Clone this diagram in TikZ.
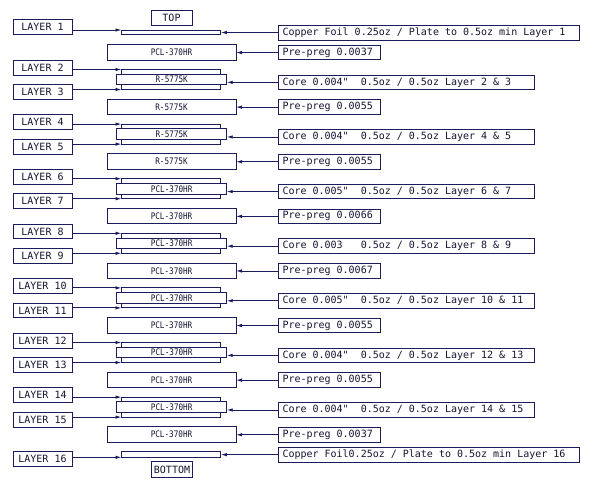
\documentclass[tikz,border=0pt]{standalone}
\usepackage{fontspec}
\setmonofont{DejaVu Sans Mono}
\newfontfamily\matfont[FakeStretch=0.85]{DejaVu Sans Mono}
\newcommand\labfnt{\ttfamily\fontsize{10}{12}\selectfont}
\newcommand\matfnt{\matfont\fontsize{9}{10}\selectfont}
\usetikzlibrary{arrows.meta}
\definecolor{navy}{RGB}{28,28,92}
\definecolor{ink}{RGB}{20,20,50}
\tikzset{
  lw/.style={draw=navy, line width=0.9pt, outer sep=0pt},
  box/.style={lw, inner sep=0pt, font=\labfnt, text=ink},
  layerbox/.style={box, minimum width=59pt, minimum height=14.7pt, anchor=north west},
  matbox/.style={box, font=\matfnt, minimum height=15.3pt, minimum width=129pt, anchor=north west},
  labbox/.style={box, anchor=north west, minimum height=14.7pt, inner xsep=4.5pt, align=left,
    execute at begin node={\spaceskip 6.02pt\xspaceskip 6.02pt\relax}},
  arr/.style={draw=navy, line width=0.9pt, -{Latex[length=6pt,width=3.5pt]}},
  thin/.style={lw, minimum width=99.3pt, inner sep=0pt, anchor=north west},
}
\begin{document}
\begin{tikzpicture}[x=1pt,y=-1pt]
\useasboundingbox (0,0) rectangle (593,483);
% top
\node[box, minimum width=41pt, minimum height=15pt, anchor=north west] (top) at (151,10) {TOP};
\node[layerbox] (L1) at (13,19.7) {LAYER 1};
\node[thin, minimum height=4.7pt] (T1) at (121.5,30) {};
\node[labbox, text width=292pt, minimum height=15pt] (Cu1) at (278,25) {Copper Foil 0.25oz / Plate to 0.5oz min Layer 1};
\draw[arr] (L1.east |- T1.north) -- (T1.north west);
\draw[arr] (Cu1.west) -- (Cu1.west -| T1.east);
% prepregs
\foreach \j/\mat/\lab in {0/PCL-370HR/0.0037, 1/R-5775K/0.0055, 2/R-5775K/0.0055, 3/PCL-370HR/0.0066, 4/PCL-370HR/0.0067, 5/PCL-370HR/0.0055, 6/PCL-370HR/0.0055, 7/PCL-370HR/0.0037}{
  \node[matbox] (P\j) at (107,44.7+54.6*\j) {\mat};
  \node[labbox, text width=93pt] (Q\j) at (278,45.2+54.6*\j) {Pre-preg \lab};
  \draw[arr] (Q\j.west) -- (Q\j.west -| P\j.east);
}
% cores
\foreach \k/\mat/\lab in {
  0/R-5775K/{Core 0.004"~ 0.5oz / 0.5oz Layer 2 \& 3},
  1/R-5775K/{Core 0.004"~ 0.5oz / 0.5oz Layer 4 \& 5},
  2/PCL-370HR/{Core 0.005"~ 0.5oz / 0.5oz Layer 6 \& 7},
  3/PCL-370HR/{Core 0.003~~ 0.5oz / 0.5oz Layer 8 \& 9},
  4/PCL-370HR/{Core 0.005"~ 0.5oz / 0.5oz Layer 10 \& 11},
  5/PCL-370HR/{Core 0.004"~ 0.5oz / 0.5oz Layer 12 \& 13},
  6/PCL-370HR/{Core 0.004"~ 0.5oz / 0.5oz Layer 14 \& 15}}{
  \pgfmathtruncatemacro{\a}{2*\k+2}
  \pgfmathtruncatemacro{\b}{2*\k+3}
  \node[layerbox] (L\a) at (13,60.3+54.6*\k) {LAYER \a};
  \node[layerbox] (L\b) at (13,84.7+54.6*\k) {LAYER \b};
  \node[thin, minimum height=20pt] (O\k) at (121.5,69.5+54.6*\k) {};
  \node[matbox, fill=white, minimum width=110pt, minimum height=10.5pt] (I\k) at (116.7,74.3+54.6*\k) {\mat};
  \node[labbox, text width=247pt] (C\k) at (278,75+54.6*\k) {\lab};
  \draw[arr] (L\a.east |- O\k.north) -- (O\k.north west);
  \draw[arr] (L\b.east |- O\k.south) -- (O\k.south west);
  \draw[arr] (C\k.west) -- (C\k.west -| I\k.east);
}
% bottom
\node[layerbox] (L16) at (13,451.7) {LAYER 16};
\node[thin, minimum height=5.6pt] (B16) at (121.5,451.7) {};
\node[box, minimum width=40.6pt, minimum height=15.6pt, anchor=north west] (bot) at (151.7,461.7) {BOTTOM};
\node[labbox, text width=292pt] (Cu16) at (278,447.3) {Copper Foil0.25oz / Plate to 0.5oz min Layer 16};
\draw[arr] (L16.east |- B16.south) -- (B16.south west);
\draw[arr] (Cu16.west) -- (Cu16.west -| B16.east);
\end{tikzpicture}
\end{document}
